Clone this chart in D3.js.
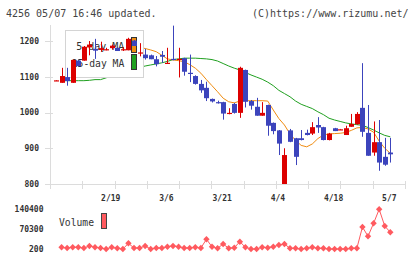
<!DOCTYPE html>
<html>
<head>
<meta charset="utf-8">
<script src="https://cdn.jsdelivr.net/npm/d3@7"></script>
<style>
  body { margin: 0; background: #fff; }
  svg { display: block; }
  text { font-family: "DejaVu Sans Mono", monospace; fill: #333; }
</style>
</head>
<body>
<svg id="chart" width="420" height="259"></svg>
<script>
// trading days, 2025-02-04 .. 2025-05-07
var dates = ["2/4","2/5","2/6","2/7","2/10","2/12","2/13","2/14","2/17","2/18",
  "2/19","2/20","2/21","2/25","2/26","2/27","2/28","3/3","3/4","3/5",
  "3/6","3/7","3/10","3/11","3/12","3/13","3/14","3/17","3/18","3/19",
  "3/21","3/24","3/25","3/26","3/27","3/28","3/31","4/1","4/2","4/3",
  "4/4","4/7","4/8","4/9","4/10","4/11","4/14","4/15","4/16","4/17",
  "4/18","4/21","4/22","4/23","4/24","4/25","4/28","4/30","5/1","5/2","5/7"];

var open  = [1089,1083,1099,1083,1145,1145,1182,1178,1175,1175,1180,1181,1175,1174,1201,1165,1162,1160,1149,1161,
  1138,1150,1148,1152,1111,1102,1080,1069,1038,1029,1029,997,1024,999,1119,1032,1016,991,1021,971,
  950,795,950,928,928,943,941,965,959,923,956,952,937,960,967,1013,943,888,917,876,888];
var high  = [1090,1125,1125,1148,1148,1186,1200,1206,1198,1181,1190,1182,1183,1209,1203,1194,1178,1162,1158,1172,
  1181,1243,1181,1153,1162,1104,1091,1086,1039,1033,1030,1012,1027,1128,1120,1035,1041,1029,1022,972,
  951,900,954,929,951,952,973,987,960,943,957,954,963,996,1001,1138,1021,975,979,929,929];
var low   = [1088,1083,1075,1083,1128,1145,1160,1150,1170,1174,1176,1172,1172,1174,1186,1157,1148,1149,1129,1139,
  1137,1146,1098,1103,1085,1078,1055,1032,1028,1025,980,995,997,985,1014,1008,991,991,935,939,
  881,795,917,853,922,936,937,943,922,922,948,952,937,960,966,932,879,879,837,851,860];
var close = [1090,1102,1088,1147,1130,1184,1190,1173,1180,1177,1187,1172,1177,1206,1186,1168,1152,1149,1135,1156,
  1139,1147,1150,1114,1109,1080,1062,1040,1031,1027,997,999,999,1125,1030,1019,991,999,963,948,
  913,881,918,876,923,937,959,958,923,941,948,953,956,968,996,946,879,917,860,854,883];

var ma5 = [null,null,null,null,1110,1130,1150,1165,1170,1180,1182,1180,1178,1183,1185,1182,1179,1175,1170,1160,
  1150,1147,1145,1142,1134,1124,1110,1092,1075,1058,1040,1030,1027,1032,1033,1033,1033,1033,1032,1007,
  983,965,940,922,908,904,912,927,937,940,941,942,944,950,957,958,954,945,920,900,886];
var ma25 = [null,1089,1089,1089,1089,1089,1090,1092,1092,1097,1103,1108,1113,1118,1122,1126,1130,1133,1136,1139,
  1143,1148,1150,1152,1152,1152,1151,1150,1148,1144,1137,1130,1124,1119,1112,1105,1099,1093,1085,1075,
  1062,1053,1044,1032,1023,1017,1011,1002,994,984,979,975,971,968,966,964,958,951,943,936,932];

var volume = [null,6200,3700,6200,6200,3700,10800,6200,3700,200,6200,2700,200,20300,3700,3700,10800,200,3700,3700,
  8300,10800,8300,3700,3700,6200,3700,34500,8300,2700,17900,2700,4800,26000,6200,200,200,6200,4800,8300,
  14300,17900,2700,2700,200,2700,6200,2700,2700,200,200,200,200,2700,2700,77900,45000,91000,140400,81400,59200];

var priceTicks = [800, 900, 1000, 1100, 1200];
var volTicks = [200, 70300, 140400];
var dateLabels = ["2/19", "3/6", "3/21", "4/4", "4/18", "5/7"];
var legendNames = ["5-day MA", "25-day MA"];

var upColor = "#dc0000";
var downColor = "#3c44bc";
var ma5Color = "#f08c10";
var ma25Color = "#20a020";
var volColor = "#ff5a5f";
var axisColor = "#dcdcdc";

var svg = d3.select("#chart");

var x = d3.scalePoint().domain(dates).range([56, 390.3]);
var frame = d3.scaleLinear().domain([0, 11]).range([50, 405]);
var y = d3.scaleLinear().domain([800, 1200]).range([184, 41]);
var yv = d3.scaleLinear().domain([200, 140400]).range([249, 209.3]);

var rows = dates.map(function (d, i) {
    return { date: d, o: open[i], h: high[i], l: low[i], c: close[i],
             m5: ma5[i], m25: ma25[i], v: volume[i] };
});

// header
svg.append("text").attr("x", 6).attr("y", 16.5).style("font-size", "10px").style("fill", "#444")
    .text("4256 05/07 16:46 updated.");
svg.append("text").attr("x", 408.5).attr("y", 16.5).attr("text-anchor", "end")
    .style("font-size", "10px").style("fill", "#444")
    .text("(C)https://www.rizumu.net/");

// axes
svg.append("line").attr("x1", 50.5).attr("x2", 50.5).attr("y1", 25).attr("y2", 189)
    .attr("stroke", axisColor);
svg.append("line").attr("x1", 50).attr("x2", 405).attr("y1", 184.5).attr("y2", 184.5)
    .attr("stroke", axisColor);

svg.selectAll(".xtick").data(d3.range(0, 12)).enter().append("line")
    .attr("x1", d => Math.round(frame(d)) + 0.5).attr("x2", d => Math.round(frame(d)) + 0.5)
    .attr("y1", 181).attr("y2", 189).attr("stroke", axisColor);

svg.selectAll(".ytick").data(priceTicks).enter().append("line")
    .attr("x1", 45).attr("x2", 53)
    .attr("y1", d => Math.round(y(d)) + 0.5).attr("y2", d => Math.round(y(d)) + 0.5)
    .attr("stroke", axisColor);

svg.selectAll(".ylabel").data(priceTicks).enter().append("text")
    .attr("x", 39).attr("y", d => y(d)).attr("dy", "0.35em").attr("text-anchor", "end")
    .style("font-size", "8px").style("font-weight", "bold")
    .text(d => d);

svg.selectAll(".xlabel").data(dateLabels).enter().append("text")
    .attr("x", d => x(d) - 1).attr("y", 198).attr("dy", "0.35em").attr("text-anchor", "middle")
    .style("font-size", "8px").style("font-weight", "bold")
    .text(d => d);

// clip for plot area
svg.append("clipPath").attr("id", "plot").append("rect")
    .attr("x", 50).attr("y", 25).attr("width", 356).attr("height", 159);

var lines = svg.append("g").attr("clip-path", "url(#plot)");

// moving averages
var ma25Line = d3.line().defined(d => d.m25 != null).x(d => x(d.date)).y(d => y(d.m25));
var ma5Line = d3.line().defined(d => d.m5 != null).x(d => x(d.date)).y(d => y(d.m5));

lines.append("path").datum(rows).attr("d", ma25Line)
    .attr("fill", "none").attr("stroke", ma25Color).attr("stroke-width", 1);
lines.append("path").datum(rows).attr("d", ma5Line)
    .attr("fill", "none").attr("stroke", ma5Color).attr("stroke-width", 1);

// legend (sits under the candles)
var lg = svg.append("g");
lg.append("rect").attr("x", 65.5).attr("y", 30.5).attr("width", 78).attr("height", 47)
    .attr("fill", "#fff").attr("stroke", "#d4d4d4");
lg.append("text").attr("x", 76.3).attr("y", 50).style("font-size", "11px")
    .attr("textLength", 48).attr("lengthAdjust", "spacingAndGlyphs").text(legendNames[0]);
lg.append("text").attr("x", 71.7).attr("y", 66.5).style("font-size", "11px")
    .attr("textLength", 52.6).attr("lengthAdjust", "spacingAndGlyphs").text(legendNames[1]);
lg.append("rect").attr("x", 131.5).attr("y", 37.5).attr("width", 5).attr("height", 15)
    .attr("fill", ma5Color).attr("stroke", "#333");
lg.append("rect").attr("x", 131.5).attr("y", 54.5).attr("width", 5).attr("height", 15)
    .attr("fill", ma25Color).attr("stroke", "#333");

// candles, drawn over the legend
var plot = svg.append("g").attr("clip-path", "url(#plot)");
var candle = plot.selectAll(".candle").data(rows).enter().append("g");

candle.append("line")
    .attr("x1", d => Math.round(x(d.date)) + 0.5).attr("x2", d => Math.round(x(d.date)) + 0.5)
    .attr("y1", d => y(d.h)).attr("y2", d => y(d.l))
    .attr("stroke", d => d.c >= d.o ? upColor : downColor);

candle.append("rect")
    .attr("x", d => Math.round(x(d.date)) - 2)
    .attr("width", 5)
    .attr("y", d => y(Math.max(d.o, d.c)))
    .attr("height", d => Math.max(1.2, Math.abs(y(d.o) - y(d.c))))
    .attr("fill", d => d.c >= d.o ? upColor : downColor);

// volume
svg.selectAll(".vlabel").data(volTicks).enter().append("text")
    .attr("x", 43.5).attr("y", d => yv(d)).attr("dy", "0.35em").attr("text-anchor", "end")
    .style("font-size", "8px").style("font-weight", "bold")
    .text(d => d);

svg.append("text").attr("x", 59).attr("y", 225.5).style("font-size", "11px")
    .attr("textLength", 35).attr("lengthAdjust", "spacingAndGlyphs").text("Volume");
svg.append("rect").attr("x", 101.5).attr("y", 213.5).attr("width", 5).attr("height", 15)
    .attr("fill", volColor).attr("stroke", "#444");

var volRows = rows.filter(d => d.v != null);
var volLine = d3.line().x(d => x(d.date)).y(d => yv(d.v));

svg.append("path").datum(volRows).attr("d", volLine)
    .attr("fill", "none").attr("stroke", volColor).attr("stroke-width", 1);

svg.selectAll(".vdot").data(volRows).enter().append("path")
    .attr("d", d3.symbol().type(d3.symbolDiamond2).size(26))
    .attr("transform", d => "translate(" + x(d.date) + "," + yv(d.v) + ")")
    .attr("fill", volColor);
</script>
</body>
</html>
